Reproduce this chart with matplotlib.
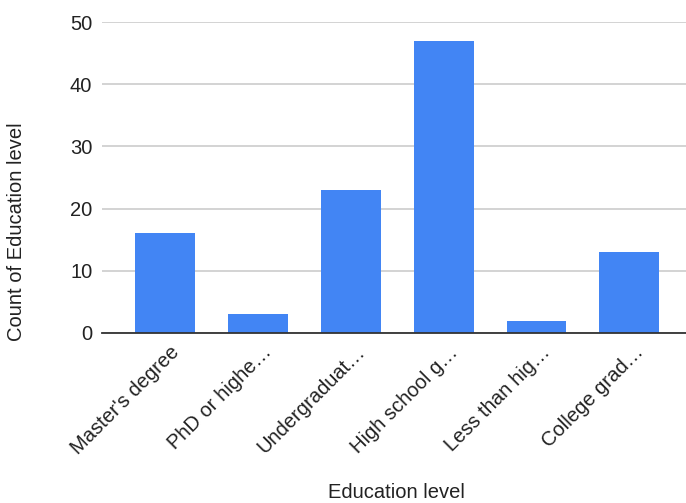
import matplotlib
matplotlib.use("Agg")
import matplotlib.pyplot as plt
import matplotlib.transforms as mtransforms

categories = ["Master's degree", "PhD or highe\u2026", "Undergraduat\u2026",
              "High school g\u2026", "Less than hig\u2026", "College grad\u2026"]
counts = [16, 3, 23, 47, 2, 13]
y_ticks = [0, 10, 20, 30, 40, 50]

plt.rcParams['font.family'] = ['Liberation Sans', 'DejaVu Sans']

W, H = 686, 503
FS = 14.5
fig = plt.figure(figsize=(W / 100, H / 100), dpi=100)
ax = fig.add_axes([102 / W, 1 - 333 / H, (W - 102) / W, (333 - 22) / H])

x = list(range(len(categories)))
ax.bar(x, counts, width=0.645, color="#4285F4", zorder=3)

ax.set_xlim(-0.68, 5.61)
ax.set_ylim(0, 50)
ax.set_yticks(y_ticks)
ax.set_yticklabels([str(v) for v in y_ticks])
ax.yaxis.grid(True, color="#cccccc", linewidth=1.2, zorder=0)
ax.set_axisbelow(True)

for side in ("top", "right", "left"):
    ax.spines[side].set_visible(False)
ax.spines["bottom"].set_color("#333333")
ax.spines["bottom"].set_linewidth(1.3)
ax.spines["bottom"].set_zorder(4)

ax.tick_params(axis="y", length=0, pad=7, labelsize=FS, labelcolor="#222222")
ax.tick_params(axis="x", length=0, pad=6, labelsize=FS, labelcolor="#222222")

ax.set_xticks(x)
ax.set_xticklabels(categories, rotation=45, ha="right", va="center",
                   rotation_mode="anchor")
offset = mtransforms.ScaledTranslation(11 / 100, -8 / 100, fig.dpi_scale_trans)
for lbl in ax.get_xticklabels():
    lbl.set_transform(lbl.get_transform() + offset)

fig.text(396 / W, 1 - 493 / H, "Education level", ha="center", va="center",
         fontsize=FS, color="#222222")
fig.text(17 / W, 1 - 232 / H, "Count of Education level", ha="center",
         va="center", rotation=90, fontsize=FS, color="#222222")

fig.savefig("out.png", dpi=100, facecolor="white")
